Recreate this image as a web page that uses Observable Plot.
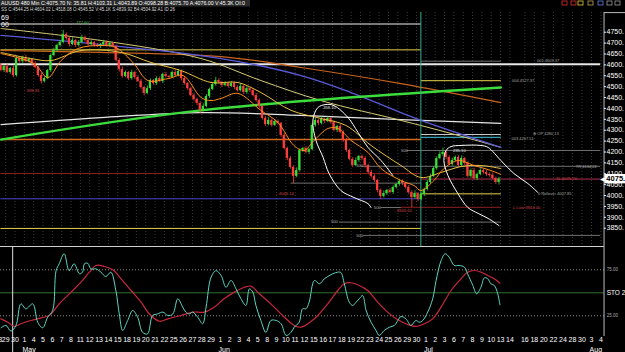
<!DOCTYPE html>
<html><head><meta charset="utf-8">
<script src="https://cdn.jsdelivr.net/npm/d3@7"></script>
<script src="https://cdn.jsdelivr.net/npm/@observablehq/plot@0.6"></script>
<style>
html,body{margin:0;padding:0;background:#000;width:625px;height:352px;overflow:hidden;font-family:"Liberation Sans",Arial,sans-serif}
#chart svg{display:block}
</style></head><body><div id="chart"></div>
<script>
// ---------- DATA ----------
const headerLine1 = "AUUSD 480 Min C:4075.70 N: 35.81 H:4103.31 L:4043.89 O:4098.28 B:4075.70 A:4076.00 V:45.3K OI:0";
const headerLine2 = "SS C:4544.25 H:4604.02 L:4518.08 O:4545.52 V:45.1K S:4839.92 B4:4504.92 A1 ID 26";
const priceTicks = [3850,3900,3950,4000,4050,4100,4150,4200,4250,4300,4350,4400,4450,4500,4550,4600,4650,4700,4750];
const lastPrice = 4075.70;
const firstOpen = 4597;
const closes = [4574,4592,4565,4583,4551,4629,4615,4634,4615,4625,
4606,4588,4551,4524,4537,4574,4643,4666,4689,4703,
4739,4721,4693,4712,4689,4703,4726,4712,4693,4703,
4689,4684,4693,4703,4689,4698,4684,4620,4579,4547,
4565,4537,4565,4542,4524,4496,4469,4491,4528,4514,
4537,4524,4556,4547,4542,4565,4551,4570,4537,4514,
4491,4459,4441,4423,4391,4409,4455,4487,4510,4528,
4519,4505,4514,4501,4514,4496,4482,4501,4473,4491,
4482,4459,4436,4409,4354,4326,4345,4322,4340,4331,
4276,4216,4170,4129,4088,4115,4207,4216,4198,4211,
4322,4345,4331,4349,4340,4354,4335,4299,4317,4290,
4253,4207,4166,4138,4161,4179,4170,4138,4106,4088,
4069,4023,3996,4009,4023,4014,4037,4051,4065,4055,
4037,4014,3991,4009,3982,4005,4028,4060,4088,4124,
4170,4189,4198,4175,4143,4161,4175,4138,4170,4147,
4088,4115,4078,4097,4115,4106,4097,4092,4078,4060,
4075.7];
const wickUp = [8,6,10,5,12,9,7,6,10,8, 5,9,6,12,8,5,7,10,6,9, 19,8,6,12,5,9,10,7,6,8, 5,9,6,10,7,8,5,6,9,12,
7,5,10,6,8,9,6,12,7,5, 9,8,6,10,5,7,12,8,6,9, 5,7,10,6,8,12,9,6,7,14, 8,5,9,6,10,7,8,12,5,9,
6,8,10,7,5,9,12,6,8,7, 5,9,6,10,8,12,7,5,9,6, 8,10,6,12,7,9,5,8,6,10, 7,9,6,8,12,5,7,9,6,10,
8,5,7,12,6,9,8,5,10,7, 6,9,8,12,5,7,6,9,10,8, 7,12,20,9,7,10,6,8,12,5, 9,7,10,6,8,5,9,7,12,6, 8];
const wickDn = [6,9,5,8,10,7,6,9,5,8, 10,6,8,12,7,5,9,6,8,7, 6,8,10,5,9,7,6,8,10,6, 7,5,9,6,8,10,6,7,12,8,
6,9,7,10,5,8,12,6,9,7, 8,6,10,7,9,5,8,6,10,7, 9,6,8,10,14,7,6,9,5,8, 7,9,6,8,5,10,7,6,9,8,
10,6,8,12,7,9,6,8,5,7, 9,7,10,8,33,6,8,9,7,10, 6,8,10,7,9,6,8,7,10,6, 8,9,7,10,6,8,9,12,7,8,
9,10,14,7,8,6,9,7,8,10, 7,9,46,8,10,6,9,7,8,6, 8,6,9,10,7,8,6,9,7,10, 8,9,7,10,6,8,9,7,6,10, 12];

// moving averages: [bar, price]
const maFast = [[0,4652],[10.6,4606],[15.1,4542],[19.3,4620],[24.7,4675],[32.1,4689],[36.9,4680],[42.7,4606],[47.2,4528],[53.7,4537],[58.5,4551],[64.3,4450],[67.5,4436],[70.7,4446],[76.1,4469],[83.5,4391],[89,4335],[94.1,4230],[97.4,4207],[100.6,4253],[105.1,4308],[108.3,4308],[112.5,4253],[117.9,4198],[122.1,4124],[128.5,4069],[132.7,4046],[134.9,4023],[139.1,4069],[142.3,4124],[146.8,4161],[152,4138],[157.4,4115],[160.6,4097]];
const maMid = [[0,4657],[9.6,4629],[16.1,4620],[25.7,4666],[38.6,4657],[48.2,4611],[57.8,4574],[67.5,4519],[76.1,4519],[83.5,4473],[93.2,4391],[102.8,4354],[110.8,4322],[118.9,4230],[128.5,4138],[134.9,4083],[141.4,4106],[147.8,4133],[154.2,4138],[160.6,4124]];
const maPaleYellow = [[0,4767],[32.1,4712],[64.3,4629],[83.5,4528],[102.8,4436],[128.5,4345],[144.6,4285],[160.6,4221]];
const maBlue = [[0,4735],[32.1,4693],[70.7,4629],[96.4,4551],[112.5,4473],[128.5,4381],[134.9,4345],[160.6,4221]];
const maOrangeLong = [[0,4666],[32.1,4657],[70.7,4638],[96.4,4588],[128.5,4514],[160.6,4427]];
const maWhite = [[0,4326],[32.1,4358],[64.3,4381],[96.4,4368],[128.5,4349],[160.6,4331]];
const trendGreen = [[0,4257],[64.3,4391],[160.6,4496]];
const arcOne = [[118.9,3945],[117.9,3963],[113.4,3991],[109.2,4023],[105.4,4101],[103.5,4175],[101.2,4253],[100.2,4345],[101.8,4404],[104.4,4418],[107,4413],[111.5,4358],[114.7,4290],[117.9,4221],[122.1,4161],[125.9,4092]];
const arcTwo = [[160,3862],[156.5,3895],[153.3,3918],[150,3945],[146.8,4009],[143.6,4092],[142.3,4161],[143,4207],[144.6,4225],[147.8,4230],[154.2,4230],[156.5,4221],[160.6,4161],[164.8,4101],[169.3,4055],[172.5,4014]];

// horizontal levels: [price, fromBar, toBar]
const levWhite = [[4787.6,-0.2,134.9]];
const levWhiteBold = [[4603.37,-0.2,192.5]];
const levYellow = [[4669,-0.2,134.9],[4527.37,134.9,160.6],[4007.85,134.9,160.6],[3849,-0.2,134.9]];
const levGray = [[4617,134.9,160.6],[4207,130.3,192.5],[4134.22,115.7,192.5],[4057,93,134.9],[3945,122,128.5],[3878,108.6,160.6],[3817,116.3,192.5]];
const levLight = [[4280.13,134.9,160.6]];
const levCyan = [[4267.51,134.9,160.6]];
const levOrange = [[4257,-0.2,134.9]];
const levDarkRed = [[4101,-0.2,134.9],[3946,128.5,160.6]];
const levPink = [[4075.7,134.9,192.5]];
const levBlue = [[3985,-0.2,134.9]];
const sessionLine = [134.9];

// labels: [bar, price, text]
const levelLabels = [[172.2,4617,"001 4603.37"],[164.2,4527.37,"004 4527.37"],[171.0,4282,"⊕ OP 4280.13"],[164.0,4263,"003 4267.51"],[184.7,4134.22,"TR 4134.22"],[172.5,4007.85,"0 Rollover 4007.85"]];
const redLabels = [[178.3,4075.7,"TL 4075.70"],[164.5,3944,"L Low 3944.00"],[7.4,4482,"- 388.35"],[88.4,4009,"- 4046.14"],[126.3,3931,"- 3946.10"]];
const fibLabels = [[128.5,4207,"500"],[114.1,4138,"500"],[119.8,3945,"500"],[106,3878,"500"],[114.1,3817,"500"]];
const whiteLabels = [[103.5,4404,"358.10"],[145.2,4207,"235.10"]];
const greenLabels = [[24.1,4794,"777.60"]];
const edgeLabels = [[0,4817,"69"],[0,4785,"00"]];

// stochastic: [bar, value]
const stoK = [[0,12],[1.6,14.5],[3.2,8.3],[4.8,14.5],[6.4,38],[8,32.6],[10.2,38],[11.8,18],[13.4,12],[15,23.5],[16.6,30.8],[17.7,74],[18.7,81.5],[20.3,92.4],[21.9,74],[23.5,81.5],[25.2,70.7],[26.2,72.4],[26.8,81.5],[27.9,82],[28.9,76],[30.5,76],[32.1,72.4],[33.7,67.7],[35.3,72.4],[36.9,52.5],[38,27],[39.1,9],[40.7,19.9],[42.3,30.8],[43.9,23.5],[45.5,7],[47.1,5.4],[48.7,25.3],[50.3,27],[52,29],[53.6,25.3],[55.2,27],[56.8,43.5],[58.4,34.4],[59.4,29],[60.5,27],[61.6,29],[63.2,23.5],[64.8,16.3],[65.9,34.4],[67.5,67],[69.1,74],[70.7,68.8],[72.3,56],[73.9,63.4],[75.5,54.3],[77.1,43.5],[78.7,36.2],[79.8,54.3],[80.9,50.7],[81.9,36.2],[83.5,19.9],[85.1,7],[86.7,19.9],[88.4,19.9],[90,16.3],[91.6,3.6],[93.2,7],[94.2,12.6],[95.8,18],[96.9,32.6],[98,32.6],[99,39.8],[100.7,63.4],[102.3,59.8],[103.9,65.2],[105,67.7],[106.6,70.7],[108.2,72.4],[109.2,72],[110.3,59.8],[111.9,39.8],[113,36.2],[114.1,39.8],[115.1,43.5],[116.2,47],[117.3,30.8],[118.9,18],[120.5,9],[121.5,3.6],[123.1,9],[124.8,12.6],[126.4,14.5],[127.5,19.9],[128.5,24.2],[130.1,21.7],[131.7,14.5],[133.3,19.9],[134.4,18],[135.5,19.9],[137.1,29],[138.7,43.5],[139.8,63.4],[141.4,85],[142.7,92.4],[144,88.7],[145.6,79.7],[147.2,79.7],[148.9,77.8],[149.9,70.7],[151.6,58],[152.8,48.9],[154.2,56],[155.3,66.3],[156.4,65.2],[157.4,59.8],[158.5,58],[159.6,48.9],[160.3,37]];
const stoD = [[0,21.7],[2.2,18],[4.3,13.4],[6.4,16.3],[9.6,19.9],[12.9,22.8],[15.5,25.3],[18.7,38],[22.5,50.7],[25.7,61.5],[28.4,72.4],[30.5,79.7],[33.2,78.6],[35.9,75],[38.6,65.2],[41.8,52.5],[45,39.8],[47.6,27.2],[50.9,19.1],[53.6,21.7],[57.8,25.3],[61.6,29],[65.3,29],[68.5,34.4],[71.7,43.5],[75,50.7],[78.2,56],[80.3,57.2],[83,48.9],[86.7,38],[90.5,25.3],[94.2,14.5],[96.4,12.6],[100.7,21.7],[105,38],[108.2,52.5],[110.3,59.8],[112.5,60.9],[115.1,58],[117.8,52.5],[121,39.8],[124.2,29],[127.5,20.6],[130.7,15.5],[133.3,13.4],[136,16.3],[138.7,21.7],[141.4,34.4],[144.6,52.5],[147.8,65.2],[149.9,72.4],[152.1,74.2],[154.2,72.4],[156.4,68.8],[158.5,65.2],[160.3,60.4]];
const stoDotted = [75, 25];
const stoMid = [50];
const stoAxisLabels = [[75,"75.00"],[50,"STO 2"],[25,"25.00"]];

// date axis
const dayLabels = ["28","29","30","1","4","5","6","7","8","11","12","13","14","15","18","19","20","21","22","25","26","27","28","29",
"1","2","3","4","5","8","9","10","11","12","15","16","17","18","19","22","23","24","25","26","29","30",
"1","2","3","6","7","8","9","10","13","14"];
const monthStarts = [["May",3],["Jun",24],["Jul",46]];
const futureLabels = ["16","18","20","22","24","28","30","3","4"];
const futureMonth = [["Aug",7]];

// ---------- LAYOUT HELPERS ----------
const W = 625, RIGHT = 21;
const xDomain = [-0.16, 193.9];
const slotToBar = s => 3*s - 1.5;
const futureSlot = k => 56.6 + 1.02*k;
const dayTicks = dayLabels.map((t,i)=>({b: i === 0 ? slotToBar(0.2) : slotToBar(i), t}));
const futTicks = futureLabels.map((t,k)=>({b: slotToBar(futureSlot(k)), t}));
const monthTicks = monthStarts.map(([m,i])=>({b: slotToBar(i)-0.6, t:m})).concat(futureMonth.map(([m,k])=>({b: slotToBar(futureSlot(k))-0.6, t:m})));
const gridBars = dayLabels.map((t,i)=>slotToBar(i)).concat(futTicks.map(d=>d.b));

const bars = closes.map((c,i)=>{
  const o = i ? closes[i-1] : firstOpen;
  const up = c >= o;
  const hi = Math.max(o,c) + (wickUp[i] ?? 6);
  const lo = Math.min(o,c) - (wickDn[i] ?? 6);
  const c2 = Math.abs(c-o) < 3 ? o + (up ? 3 : -3) : c;
  return {i,o,c:c2,hi,lo,up};
});
const upBars = bars.filter(d=>d.up), dnBars = bars.filter(d=>!d.up);
const GREEN = "#35e035", RED = "#ff3c3c";
const lev = (arr, stroke, w=1, extra={}) => Plot.link(arr, {x1:d=>d[1], x2:d=>d[2], y1:d=>d[0], y2:d=>d[0], stroke, strokeWidth:w, ...extra});
const ma = (arr, stroke, w=1) => Plot.line(arr, {x:d=>d[0], y:d=>d[1], stroke, strokeWidth:w, curve:"catmull-rom"});
const txt = (arr, fill, size, extra={}) => Plot.text(arr, {x:d=>d[0], y:d=>d[1], text:d=>d[2], fill, fontSize:size, textAnchor:"start", ...extra});

// ---------- HEADER ----------
const root = document.getElementById("chart");
const hdr = d3.create("svg").attr("width", W).attr("height", 12).style("display","block").style("background","#000");
hdr.append("rect").attr("x",0).attr("y",0).attr("width",250).attr("height",6.5).attr("fill","#2a2a2a");
hdr.append("text").attr("x",1).attr("y",5.2).attr("fill","#fff").attr("font-size",5.6)
  .attr("textLength",244).attr("lengthAdjust","spacingAndGlyphs").text(headerLine1);
hdr.append("text").attr("x",1).attr("y",11.4).attr("fill","#ddd").attr("font-size",5.2)
  .attr("textLength",174).attr("lengthAdjust","spacingAndGlyphs").text(headerLine2);
[["#e03030",562],["#e03030",571],["#e0d040",578],["#c0a060",588],["#6080e0",598],["#999",607],["#999",615]].forEach(([c,x])=>{
  hdr.append("rect").attr("x",x).attr("y",1).attr("width",5).attr("height",4).attr("fill","none").attr("stroke",c).attr("stroke-width",0.8);
});
root.appendChild(hdr.node());

// ---------- MAIN PRICE PANEL ----------
const main = Plot.plot({
  width: W, height: 234,
  marginLeft: 0, marginRight: RIGHT, marginTop: 0, marginBottom: 0,
  x: {domain: xDomain, axis: null},
  y: {domain: [3766, 4840.5], axis: null},
  style: {background:"#000", color:"#fff", fontFamily:"Liberation Sans, Arial, sans-serif", fontSize:"7px"},
  marks: [
    Plot.ruleX(gridBars, {stroke:"#3a3a3a", strokeDasharray:"1,2"}),
    lev(levWhite, "#f0f0f0", 1.2),
    lev(levYellow, "#e6d34a", 1),
    lev(levGray, "#8c8c8c", 0.8),
    lev(levLight, "#cfcfcf", 1),
    lev(levCyan, "#3fc8e0", 1),
    lev(levOrange, "#d2691e", 1.6),
    lev(levDarkRed, "#8b1f1f", 1),
    lev(levPink, "#b03050", 1),
    lev(levBlue, "#4848c8", 1),
    lev(levWhiteBold, "#e8e8e8", 2),
    ma(maWhite, "#e6e6e6", 1.2),
    ma(maOrangeLong, "#c8641e", 1.2),
    ma(maPaleYellow, "#d8cc78", 1),
    ma(maBlue, "#5a5ad8", 1.3),
    ma(trendGreen, "#3ddc3d", 2.4),
    Plot.ruleX(sessionLine, {stroke:"#30b090", strokeWidth:1}),
    Plot.ruleX(upBars, {x:"i", y1:"lo", y2:"hi", stroke:GREEN, strokeWidth:0.8}),
    Plot.ruleX(dnBars, {x:"i", y1:"lo", y2:"hi", stroke:RED, strokeWidth:0.8}),
    Plot.rect(upBars, {x1:d=>d.i-0.36, x2:d=>d.i+0.36, y1:"o", y2:"c", fill:GREEN}),
    Plot.rect(dnBars, {x1:d=>d.i-0.36, x2:d=>d.i+0.36, y1:"o", y2:"c", fill:RED}),
    ma(maMid, "#e8c040", 1),
    ma(maFast, "#ff8c1a", 1),
    Plot.line(arcOne, {x:d=>d[0], y:d=>d[1], stroke:"#fff", strokeWidth:1, curve:"catmull-rom"}),
    Plot.line(arcTwo, {x:d=>d[0], y:d=>d[1], stroke:"#fff", strokeWidth:1, curve:"catmull-rom"}),
    txt(levelLabels, "#a8a8a8", 4),
    txt(redLabels, "#d04040", 4.2),
    txt(fibLabels, "#b0b0b0", 4.2),
    txt(whiteLabels, "#e0e0e0", 4.2),
    txt(greenLabels, "#40c040", 4.2),
    txt(edgeLabels, "#ffffff", 7),
    // right price axis
    Plot.ruleX([193.75], {stroke:"#bbb", strokeWidth:1}),
    Plot.link([4840], {x1:193.75, x2:202, y1:d=>d, y2:d=>d, stroke:"#bbb"}),
    Plot.link(priceTicks, {x1:193.75, x2:194.35, y1:d=>d, y2:d=>d, stroke:"#fff"}),
    Plot.text(priceTicks, {x:194.55, y:d=>d, text:d=>d + ".", fill:"#fff", fontSize:7, textAnchor:"start"}),
    Plot.rect([lastPrice], {x1:194.0, x2:202, y1:d=>d-22, y2:d=>d+21, fill:"#fff"}),
    Plot.text([lastPrice], {x:193.3, y:d=>d, text:["◀"], fill:"#fff", fontSize:6}),
    Plot.text([lastPrice], {x:194.5, y:d=>d, text:d=>Math.floor(d) + ".", fill:"#000", fontSize:7.5, fontWeight:"bold", textAnchor:"start"})
  ]
});
root.appendChild(main);

// ---------- STOCHASTIC PANEL + DATE AXIS ----------
const sto = Plot.plot({
  width: W, height: 106,
  marginLeft: 0, marginRight: RIGHT, marginTop: 0, marginBottom: 16,
  x: {domain: xDomain, axis: null},
  y: {domain: [2.5, 100.3], axis: null},
  style: {background:"#000", color:"#fff", fontFamily:"Liberation Sans, Arial, sans-serif", fontSize:"7px"},
  marks: [
    Plot.ruleY(stoDotted, {stroke:"#8a8a8a", strokeDasharray:"1,2"}),
    Plot.ruleY(stoMid, {stroke:"#2f6e2f"}),
    Plot.ruleY([100.3], {stroke:"#d0d0d0"}),
    Plot.ruleX([193.75], {y1:100.3, y2:2.5, stroke:"#bbb"}),
    Plot.ruleX([3.75], {y1:100.3, y2:-16, stroke:"#ddd"}),
    Plot.line(stoD, {x:d=>d[0], y:d=>d[1], stroke:"#c8283c", strokeWidth:1.2, curve:"catmull-rom"}),
    Plot.line(stoK, {x:d=>d[0], y:d=>d[1], stroke:"#5ad6c4", strokeWidth:1, curve:"catmull-rom"}),
    Plot.text(stoAxisLabels, {x:194.6, y:d=>d[0], text:d=>d[1], fill:d=>d[1].startsWith("STO")?"#fff":"#aaa", fontSize:d=>d[1].startsWith("STO")?6.5:4.5, textAnchor:"start"}),
    Plot.text(dayTicks.concat(futTicks), {x:"b", y:-1.3, text:"t", fill:"#fff", fontSize:7}),
    Plot.text(monthTicks, {x:"b", y:-11.7, text:"t", fill:"#fff", fontSize:7, textAnchor:"start"})
  ]
});
root.appendChild(sto);
</script></body></html>
